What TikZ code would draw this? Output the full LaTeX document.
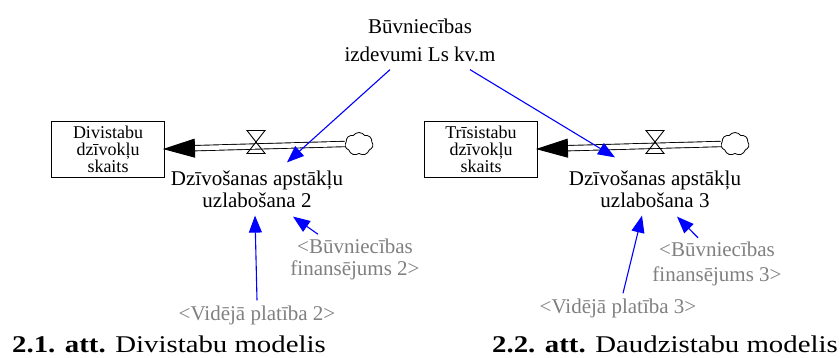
\documentclass[tikz,border=0pt]{standalone}
\usepackage{fontspec}
\setmainfont{Liberation Serif}
\usetikzlibrary{arrows.meta,shapes.symbols}
\definecolor{linkblue}{RGB}{0,0,255}
\definecolor{shadowgray}{RGB}{128,128,128}
\begin{document}
\begin{tikzpicture}[x=1pt,y=-1pt,
    font=\fontsize{21}{22}\selectfont,
    stockbox/.style={draw,line width=0.9pt,minimum width=113pt,minimum height=56pt,inner sep=0pt,align=center,font=\fontsize{18}{17}\selectfont},
    flowlabel/.style={align=center,inner sep=0pt},
    shadow/.style={align=center,inner sep=0pt,text=shadowgray},
    pipe/.style={double distance=4.5pt,line width=0.9pt,-{Triangle[length=32pt,width=19pt,sep=-2pt]}},
    link/.style={linkblue,line width=1.1pt,-{Triangle[length=17pt,width=13pt]}},
    cloudy/.style={cloud,draw,cloud puffs=7,cloud puff arc=110,minimum width=28pt,minimum height=23pt,inner sep=0pt,line width=0.8pt},
    caption/.style={anchor=base west,inner sep=0pt,font=\fontsize{24}{28}\selectfont}]
\useasboundingbox (0,0) rectangle (840,358);
% Build-cost variable shared by both models
\node[flowlabel,font=\fontsize{21}{28}\selectfont] (cost) at (420,40) {Būvniecības\\izdevumi Ls kv.m};
% 2.1 two-room model
\node[stockbox] (s1) at (108,149) {Divistabu\\dzīvokļu\\skaits};
\node[cloudy] (c1) at (359,144) {};
\coordinate (v1) at (256,142);
\draw[pipe] (c1.west) -- (s1.east);
\draw[line width=0.9pt] (v1) ++(-9,-11.5) -- ++(18,0) -- ++(-18,23) -- ++(18,0) -- cycle;
\node[flowlabel] (f1) at (257,189) {Dzīvošanas apstākļu\\uzlabošana 2};
\node[shadow] (b1) at (355,259) {<Būvniecības\\finansējums 2>};
\node[shadow] (g1) at (257,315) {<Vidējā platība 2>};
\draw[link] ([shift={(-30,8)}]cost.south) -- ([shift={(30,-8)}]f1.north);
\draw[link] ([shift={(0,-5)}]g1.north) -- ([shift={(-2,8)}]f1.south);
\draw[link] ([shift={(-37,-4)}]b1.north) -- ([shift={(36,9)}]f1.south);
% 2.2 multi-room model
\node[stockbox] (s2) at (481,149) {Trīsistabu\\dzīvokļu\\skaits};
\node[cloudy] (c2) at (735,144) {};
\coordinate (v2) at (655,142);
\draw[pipe] (c2.west) -- (s2.east);
\draw[line width=0.9pt] (v2) ++(-9,-11.5) -- ++(18,0) -- ++(-18,23) -- ++(18,0) -- cycle;
\node[flowlabel] (f2) at (655,189) {Dzīvošanas apstākļu\\uzlabošana 3};
\node[shadow,font=\fontsize{21}{25}\selectfont] (b2) at (717,264) {<Būvniecības\\finansējums 3>};
\node[shadow] (g2) at (618,308) {<Vidējā platība 3>};
\draw[link] ([shift={(50,8)}]cost.south) -- ([shift={(-40,-13)}]f2.north);
\draw[link] ([shift={(5,-5)}]g2.north) -- ([shift={(-13,8)}]f2.south);
\draw[link] ([shift={(-19,-4)}]b2.north) -- ([shift={(22,9)}]f2.south);
% captions
\node[caption] (cap1) at (12,352) {\scalebox{1.2}[1]{\textbf{2.1. att.} Divistabu modelis}};
\node[caption] (cap2) at (492,352) {\scalebox{1.2}[1]{\textbf{2.2. att.} Daudzistabu modelis}};
\end{tikzpicture}
\end{document}
